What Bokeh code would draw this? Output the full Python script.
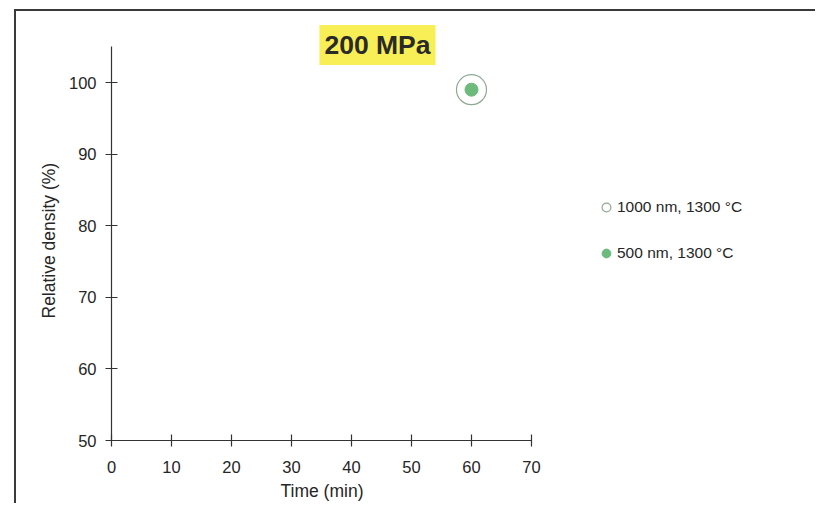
from bokeh.plotting import figure
from bokeh.models import Legend, LegendItem, Label, FixedTicker, Range1d, Title
from bokeh.embed import file_html
from bokeh.resources import INLINE

# ---- data ----
title_text = "200 MPa"
x_label = "Time (min)"
y_label = "Relative density (%)"
series_names = ["1000 nm, 1300 °C", "500 nm, 1300 °C"]
time_1000 = [60]
density_1000 = [99]
time_500 = [60]
density_500 = [99]
x_ticks = [0, 10, 20, 30, 40, 50, 60, 70]
y_ticks = [50, 60, 70, 80, 90, 100]

FONT = "Liberation Sans"
TXT = "#262626"
AX = "#333333"

p = figure(width=801, height=494, output_backend="svg", toolbar_location=None,
           x_range=Range1d(0, 117.67), y_range=Range1d(50, 109.92),
           min_border_left=95, min_border_bottom=65, min_border_top=0, min_border_right=0,
           styles={"margin-left": "14px", "margin-top": "9px",
                   "border-left": "2px solid #3a3a3a", "border-top": "2px solid #3a3a3a"})
p.outline_line_color = None
p.grid.visible = False
p.background_fill_color = "white"
p.border_fill_color = "white"

p.xaxis.ticker = FixedTicker(ticks=x_ticks)
p.xaxis.bounds = (0, 70)
p.yaxis.ticker = FixedTicker(ticks=y_ticks)
p.yaxis.bounds = (50, 105)
for ax in (p.xaxis[0], p.yaxis[0]):
    ax.axis_line_color = AX
    ax.axis_line_width = 1.2
    ax.major_tick_line_color = AX
    ax.major_tick_line_width = 1.2
    ax.major_tick_in = 6
    ax.major_tick_out = 6
    ax.minor_tick_line_color = None
    ax.major_label_text_font = FONT
    ax.major_label_text_font_size = "16.5px"
    ax.major_label_text_color = TXT
p.xaxis.major_label_standoff = 14
p.yaxis.major_label_standoff = 9

# axis titles, positioned along the drawn axis extent
p.add_layout(Title(text=x_label, align="left", offset=169, standoff=6,
                   text_font=FONT, text_font_size="17.5px", text_font_style="normal",
                   text_color=TXT), "below")
p.add_layout(Title(text=y_label, align="left", offset=122, standoff=13,
                   text_font=FONT, text_font_size="17.5px", text_font_style="normal",
                   text_color=TXT), "left")

r_open = p.scatter(time_1000, density_1000, marker="circle", size=30,
                   fill_color=None, line_color="#8fa894", line_width=1.2)
r_green = p.scatter(time_500, density_500, marker="circle", size=13,
                    fill_color="#6cbb7d", line_color="#6cbb7d")

legend = Legend(items=[LegendItem(label=series_names[0], renderers=[r_open]),
                       LegendItem(label=series_names[1], renderers=[r_green])],
                location=(484, 176), padding=0, spacing=24, margin=0,
                glyph_width=22, glyph_height=22, label_standoff=0,
                border_line_color=None, background_fill_alpha=0,
                label_text_font=FONT, label_text_font_size="15.5px",
                label_text_color=TXT)
p.add_layout(legend)

p.add_layout(Label(x=44.33, y=105.24, text=title_text, text_align="center",
                   text_baseline="middle", text_font=FONT, text_font_style="bold",
                   text_font_size="26.5px", text_color="#2a2a2a",
                   background_fill_color="#f8ee55", padding=5))

open("out.html", "w").write(file_html(p, INLINE))
